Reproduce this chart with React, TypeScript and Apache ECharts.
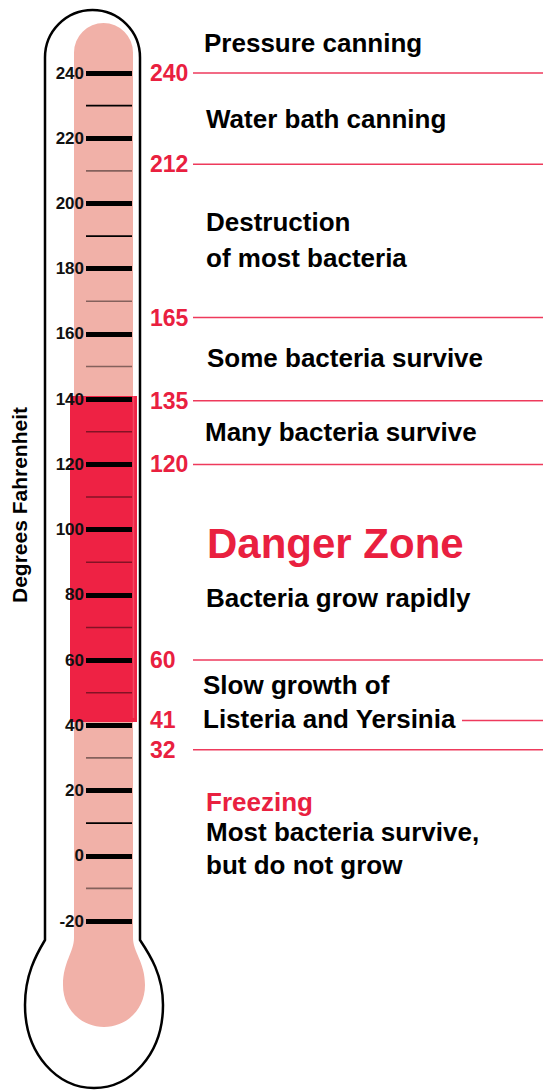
import React, { useEffect, useRef } from 'react';
import * as echarts from 'echarts';

// ---- data ----
const axisMin = -20;
const axisMax = 240;
const axisStep = 20;
const minorTicks = [230, 210, 190, 170, 150, 130, 110, 90, 70, 50, 30, 10, -10];
const solidMinorTicks = [230, 190, 10];
const dangerZone = [41, 141];
const markerLabels = ['240', '212', '165', '135', '120', '60', '41', '32'];
const markerValues = [240, 212, 165, 139.5, 120, 60, 41.5, 32.5];
const shortMarkers = ['41'];
const zoneTexts = [
  'Pressure canning',
  'Water bath canning',
  'Destruction',
  'of most bacteria',
  'Some bacteria survive',
  'Many bacteria survive',
  'Danger Zone',
  'Bacteria grow rapidly',
  'Slow growth of',
  'Listeria and Yersinia',
  'Freezing',
  'Most bacteria survive,',
  'but do not grow',
];
const axisTitle = 'Degrees Fahrenheit';

// ---- layout / style ----
const FONT = '"Liberation Sans", Arial, Helvetica, sans-serif';
const RED = '#e9203f';
const PINK = '#f1b1a8';
const textLayout: { x: number; y: number; size: number; color: string }[] = [
  { x: 204, y: 43, size: 26, color: '#000' },
  { x: 206, y: 119, size: 26, color: '#000' },
  { x: 206, y: 222, size: 26, color: '#000' },
  { x: 206, y: 258, size: 26, color: '#000' },
  { x: 207, y: 358, size: 26, color: '#000' },
  { x: 205, y: 432, size: 26, color: '#000' },
  { x: 207, y: 543, size: 42, color: RED },
  { x: 206, y: 598, size: 26, color: '#000' },
  { x: 203, y: 685, size: 26, color: '#000' },
  { x: 203, y: 719, size: 26, color: '#000' },
  { x: 206, y: 802, size: 26, color: RED },
  { x: 206, y: 832, size: 26, color: '#000' },
  { x: 206, y: 865, size: 26, color: '#000' },
];

const OUTLINE_D =
  'M45 57.5 A47.5 47.5 0 0 1 140 57.5 L140 940 C150 955 163 975 163 1005 C163 1055 130 1088 94 1088 C58 1088 25 1055 25 1005 C25 975 36 955 45 940 Z';
const FILL_D =
  'M74 52.5 A29.5 29.5 0 0 1 133 52.5 L133 938 C133 952 145 962 145 985 C145 1010 126 1027 104 1027 C82 1027 63 1010 63 985 C63 962 74 952 74 938 Z';

let registered = false;
function registerShapes() {
  if (registered) return;
  echarts.graphic.registerShape('thermoOutline', echarts.graphic.extendPath(OUTLINE_D, {}) as any);
  echarts.graphic.registerShape('thermoFill', echarts.graphic.extendPath(FILL_D, {}) as any);
  registered = true;
}

export default function App() {
  const ref = useRef<HTMLDivElement>(null);
  useEffect(() => {
    if (!ref.current) return;
    registerShapes();
    const chart = echarts.init(ref.current, undefined, { renderer: 'svg' });

    const textGraphics = zoneTexts.map((t, i) => ({
      type: 'text',
      x: textLayout[i].x,
      y: textLayout[i].y,
      z: 5,
      style: {
        text: t,
        fill: textLayout[i].color,
        font: `bold ${textLayout[i].size}px ${FONT}`,
        textAlign: 'left',
        textVerticalAlign: 'middle',
      },
    }));

    const option: any = {
      animation: false,
      backgroundColor: '#fff',
      grid: { left: 86, right: 543 - 132, top: 73, bottom: 1091 - 921 },
      xAxis: { type: 'value', min: 0, max: 1, show: false },
      yAxis: {
        type: 'value',
        min: axisMin,
        max: axisMax,
        interval: axisStep,
        z: 10,
        axisLine: { show: false },
        splitLine: { show: false },
        axisTick: { show: true, inside: true, length: 46, lineStyle: { color: '#000', width: 5 } },
        axisLabel: {
          margin: 2,
          color: '#111',
          fontSize: 17,
          fontWeight: 'bold',
          fontFamily: FONT,
        },
      },
      graphic: [
        { type: 'thermoOutline', x: 0, y: 0, z: 0, style: { fill: '#fff', stroke: '#000', lineWidth: 2.5 } },
        { type: 'thermoFill', x: 0, y: 0, z: 1, style: { fill: PINK } },
        {
          type: 'text',
          x: 19,
          y: 505,
          rotation: Math.PI / 2,
          z: 5,
          style: {
            text: axisTitle,
            fill: '#000',
            font: `bold 21px ${FONT}`,
            textAlign: 'center',
            textVerticalAlign: 'middle',
          },
        },
        ...textGraphics,
      ],
      series: [
        {
          type: 'custom',
          name: 'danger',
          z: 3,
          data: [[0, dangerZone[0], dangerZone[1]]],
          renderItem: (params: any, api: any) => {
            const yTop = api.coord([0, api.value(2)])[1];
            const yBot = api.coord([0, api.value(1)])[1];
            const cs = params.coordSys;
            const x0 = cs.x - 16;
            const x1 = cs.x + cs.width + 5;
            return {
              type: 'group',
              children: [
                {
                  type: 'rect',
                  shape: { x: x0, y: yTop, width: x1 - x0, height: yBot - yTop },
                  style: { fill: '#ee2244' },
                },
                {
                  type: 'line',
                  shape: { x1: cs.x + cs.width + 1.5, y1: yTop, x2: cs.x + cs.width + 1.5, y2: yBot - 4 },
                  style: { stroke: '#f04a63', lineWidth: 1.5 },
                },
              ],
            };
          },
        },
        {
          type: 'custom',
          name: 'minor',
          z: 11,
          data: minorTicks.map((v) => [0, v]),
          renderItem: (params: any, api: any) => {
            const v = api.value(1);
            const y = api.coord([0, v])[1];
            const cs = params.coordSys;
            const solid = solidMinorTicks.includes(v);
            return {
              type: 'line',
              shape: { x1: cs.x, y1: y, x2: cs.x + cs.width, y2: y },
              style: { stroke: '#000', lineWidth: 1.6, opacity: solid ? 1 : 0.45 },
            };
          },
        },
        {
          type: 'custom',
          name: 'markers',
          z: 6,
          data: markerValues.map((v) => [0, v]),
          renderItem: (params: any, api: any) => {
            const y = api.coord([0, api.value(1)])[1];
            const label = markerLabels[params.dataIndex];
            const x0 = shortMarkers.includes(label) ? 462 : 193;
            return {
              type: 'group',
              children: [
                {
                  type: 'line',
                  shape: { x1: x0, y1: y, x2: 543, y2: y },
                  style: { stroke: '#ee3a5c', lineWidth: 1.5 },
                },
                {
                  type: 'text',
                  x: 150,
                  y: y,
                  style: {
                    text: label,
                    fill: RED,
                    font: `bold 23px ${FONT}`,
                    textAlign: 'left',
                    textVerticalAlign: 'middle',
                  },
                },
              ],
            };
          },
        },
      ],
    };
    chart.setOption(option);
    return () => chart.dispose();
  }, []);
  return (
    <div
      ref={ref}
      style={{ position: 'absolute', left: 0, top: 0, width: 543, height: 1091 }}
    />
  );
}
